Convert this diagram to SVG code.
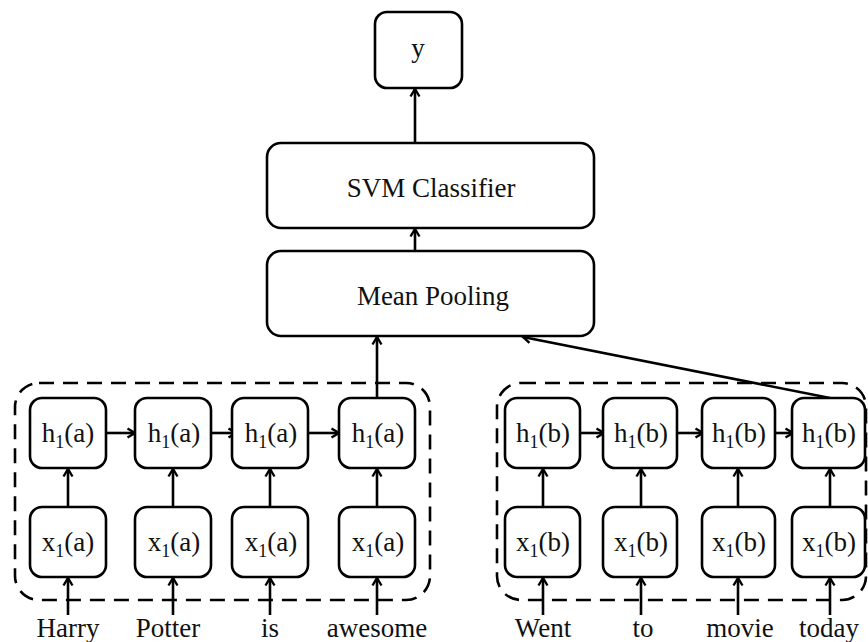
<svg xmlns="http://www.w3.org/2000/svg" width="868" height="642" viewBox="0 0 868 642">
<style>
.box{fill:#fff;stroke:#000;stroke-width:2.6}
.dash{fill:none;stroke:#000;stroke-width:2.6;stroke-dasharray:15 9}
.t{font-family:"Liberation Serif",Tinos,"Times New Roman",Times,"Noto Serif","DejaVu Serif",FreeSerif,serif;font-size:27px;fill:#111;text-anchor:middle}
.sub{font-size:18px}
.c{fill:none;stroke:#000;stroke-width:2.6}
</style>
<defs>
<marker id="ah" viewBox="0 0 12 12" refX="10.5" refY="6" markerWidth="12" markerHeight="12" markerUnits="userSpaceOnUse" orient="auto">
<path d="M3,1.5 L10.5,6 L3,10.5" fill="none" stroke="#000" stroke-width="2.4" stroke-linejoin="miter"/>
</marker>
</defs>
<rect width="868" height="642" fill="#fff"/>

<g id="group-a"><rect class="dash" x="15" y="383" width="415" height="217" rx="24"/></g>
<g id="group-b"><rect class="dash" x="497" y="383" width="369" height="217" rx="24"/></g>

<g id="connectors">
<line class="c" x1="415" y1="142" x2="415" y2="89" marker-end="url(#ah)"/>
<line class="c" x1="415" y1="251" x2="415" y2="229" marker-end="url(#ah)"/>
<line class="c" x1="377" y1="398" x2="377" y2="337" marker-end="url(#ah)"/>
<line class="c" x1="830" y1="398" x2="523" y2="337" marker-end="url(#ah)"/>
<line class="c" x1="106" y1="433" x2="135" y2="433" marker-end="url(#ah)"/>
<line class="c" x1="211" y1="433" x2="236" y2="433" marker-end="url(#ah)"/>
<line class="c" x1="308" y1="433" x2="339" y2="433" marker-end="url(#ah)"/>
<line class="c" x1="580" y1="433" x2="604" y2="433" marker-end="url(#ah)"/>
<line class="c" x1="677" y1="433" x2="703" y2="433" marker-end="url(#ah)"/>
<line class="c" x1="775" y1="433" x2="793" y2="433" marker-end="url(#ah)"/>
<line class="c" x1="68" y1="507" x2="68" y2="469" marker-end="url(#ah)"/>
<line class="c" x1="173" y1="507" x2="173" y2="469" marker-end="url(#ah)"/>
<line class="c" x1="270" y1="507" x2="270" y2="469" marker-end="url(#ah)"/>
<line class="c" x1="377" y1="507" x2="377" y2="469" marker-end="url(#ah)"/>
<line class="c" x1="543" y1="507" x2="543" y2="469" marker-end="url(#ah)"/>
<line class="c" x1="641" y1="507" x2="641" y2="469" marker-end="url(#ah)"/>
<line class="c" x1="738" y1="507" x2="738" y2="469" marker-end="url(#ah)"/>
<line class="c" x1="830" y1="507" x2="830" y2="469" marker-end="url(#ah)"/>
<line class="c" x1="68" y1="615" x2="68" y2="578" marker-end="url(#ah)"/>
<line class="c" x1="173" y1="615" x2="173" y2="578" marker-end="url(#ah)"/>
<line class="c" x1="270" y1="615" x2="270" y2="578" marker-end="url(#ah)"/>
<line class="c" x1="377" y1="615" x2="377" y2="578" marker-end="url(#ah)"/>
<line class="c" x1="543" y1="615" x2="543" y2="578" marker-end="url(#ah)"/>
<line class="c" x1="641" y1="615" x2="641" y2="578" marker-end="url(#ah)"/>
<line class="c" x1="738" y1="615" x2="738" y2="578" marker-end="url(#ah)"/>
<line class="c" x1="830" y1="615" x2="830" y2="578" marker-end="url(#ah)"/>
</g>

<g id="y"><rect class="box" x="375" y="12" width="87" height="76" rx="12"/><text class="t" x="418" y="57">y</text></g>
<g id="svm"><rect class="box" x="267" y="143" width="327" height="85" rx="14"/><text class="t" x="431" y="197">SVM Classifier</text></g>
<g id="pool"><rect class="box" x="267" y="251" width="327" height="85" rx="14"/><text class="t" x="433" y="305">Mean Pooling</text></g>

<g id="ha1"><rect class="box" x="30" y="398" width="76" height="70" rx="12"/><text class="t" x="68" y="442">h<tspan class="sub" dy="6">1</tspan><tspan dy="-6">(a)</tspan></text></g>
<g id="ha2"><rect class="box" x="135" y="398" width="76" height="70" rx="12"/><text class="t" x="174" y="442">h<tspan class="sub" dy="6">1</tspan><tspan dy="-6">(a)</tspan></text></g>
<g id="ha3"><rect class="box" x="232" y="398" width="76" height="70" rx="12"/><text class="t" x="271" y="442">h<tspan class="sub" dy="6">1</tspan><tspan dy="-6">(a)</tspan></text></g>
<g id="ha4"><rect class="box" x="339" y="398" width="76" height="70" rx="12"/><text class="t" x="378" y="442">h<tspan class="sub" dy="6">1</tspan><tspan dy="-6">(a)</tspan></text></g>
<g id="xa1"><rect class="box" x="30" y="507" width="76" height="70" rx="12"/><text class="t" x="68" y="551">x<tspan class="sub" dy="6">1</tspan><tspan dy="-6">(a)</tspan></text></g>
<g id="xa2"><rect class="box" x="135" y="507" width="76" height="70" rx="12"/><text class="t" x="174" y="551">x<tspan class="sub" dy="6">1</tspan><tspan dy="-6">(a)</tspan></text></g>
<g id="xa3"><rect class="box" x="232" y="507" width="76" height="70" rx="12"/><text class="t" x="271" y="551">x<tspan class="sub" dy="6">1</tspan><tspan dy="-6">(a)</tspan></text></g>
<g id="xa4"><rect class="box" x="339" y="507" width="76" height="70" rx="12"/><text class="t" x="378" y="551">x<tspan class="sub" dy="6">1</tspan><tspan dy="-6">(a)</tspan></text></g>

<g id="hb1"><rect class="box" x="505" y="398" width="75" height="70" rx="12"/><text class="t" x="543" y="442">h<tspan class="sub" dy="6">1</tspan><tspan dy="-6">(b)</tspan></text></g>
<g id="hb2"><rect class="box" x="603" y="398" width="74" height="70" rx="12"/><text class="t" x="641" y="442">h<tspan class="sub" dy="6">1</tspan><tspan dy="-6">(b)</tspan></text></g>
<g id="hb3"><rect class="box" x="702" y="398" width="73" height="70" rx="12"/><text class="t" x="739" y="442">h<tspan class="sub" dy="6">1</tspan><tspan dy="-6">(b)</tspan></text></g>
<g id="hb4"><rect class="box" x="792" y="398" width="73" height="70" rx="12"/><text class="t" x="829" y="442">h<tspan class="sub" dy="6">1</tspan><tspan dy="-6">(b)</tspan></text></g>
<g id="xb1"><rect class="box" x="505" y="507" width="75" height="70" rx="12"/><text class="t" x="543" y="551">x<tspan class="sub" dy="6">1</tspan><tspan dy="-6">(b)</tspan></text></g>
<g id="xb2"><rect class="box" x="603" y="507" width="74" height="70" rx="12"/><text class="t" x="641" y="551">x<tspan class="sub" dy="6">1</tspan><tspan dy="-6">(b)</tspan></text></g>
<g id="xb3"><rect class="box" x="702" y="507" width="73" height="70" rx="12"/><text class="t" x="739" y="551">x<tspan class="sub" dy="6">1</tspan><tspan dy="-6">(b)</tspan></text></g>
<g id="xb4"><rect class="box" x="792" y="507" width="73" height="70" rx="12"/><text class="t" x="829" y="551">x<tspan class="sub" dy="6">1</tspan><tspan dy="-6">(b)</tspan></text></g>

<g id="words">
<text class="t" x="68" y="637">Harry</text>
<text class="t" x="168" y="637">Potter</text>
<text class="t" x="270" y="637">is</text>
<text class="t" x="377" y="637">awesome</text>
<text class="t" x="543" y="637">Went</text>
<text class="t" x="643" y="637">to</text>
<text class="t" x="740" y="637">movie</text>
<text class="t" x="829" y="637">today</text>
</g>
</svg>
